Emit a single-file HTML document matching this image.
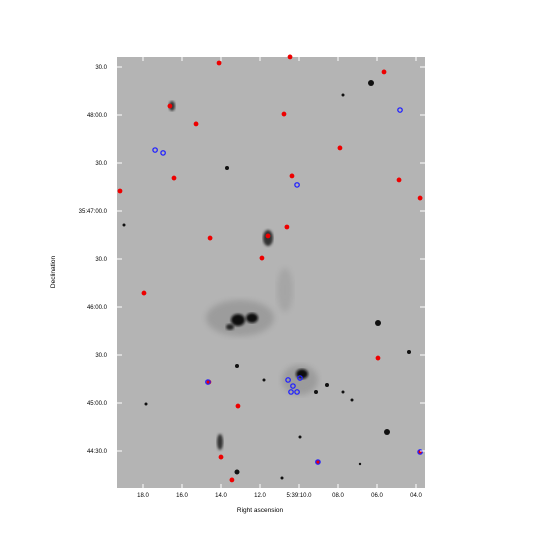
<!DOCTYPE html>
<html><head><meta charset="utf-8"><style>
html,body{margin:0;padding:0;background:#fff;}
svg{display:block;font-family:"Liberation Sans",sans-serif;}
</style></head><body>
<svg id="chart" width="541" height="546">
<defs>
<filter id="blur1"><feGaussianBlur stdDeviation="3"/></filter>
<filter id="blur2"><feGaussianBlur stdDeviation="1.2"/></filter>
</defs>
<rect x="117" y="57" width="308" height="431" fill="#b4b4b4"/>
<g id="neb">
<ellipse cx="240" cy="318" rx="34" ry="18" fill="#808080" opacity="0.45" filter="url(#blur1)"/>
<ellipse cx="285" cy="290" rx="8" ry="22" fill="#909090" opacity="0.4" filter="url(#blur1)"/>
<ellipse cx="300" cy="380" rx="18" ry="15" fill="#808080" opacity="0.45" filter="url(#blur1)"/>
<ellipse cx="238" cy="320" rx="7" ry="6" fill="#111" filter="url(#blur2)"/>
<ellipse cx="252" cy="318" rx="6" ry="5" fill="#111" filter="url(#blur2)"/>
<ellipse cx="230" cy="327" rx="4" ry="3" fill="#222" filter="url(#blur2)"/>
<ellipse cx="302" cy="374" rx="6" ry="5" fill="#111" filter="url(#blur2)"/>
<ellipse cx="268" cy="238" rx="5" ry="8" fill="#333" filter="url(#blur2)"/>
<ellipse cx="220" cy="442" rx="3" ry="8" fill="#333" filter="url(#blur2)"/>
<ellipse cx="172" cy="106" rx="3" ry="5" fill="#333" filter="url(#blur2)"/>
<circle cx="371" cy="83" r="3" fill="#111"/>
<circle cx="378" cy="323" r="3" fill="#111"/>
<circle cx="387" cy="432" r="3" fill="#111"/>
<circle cx="237" cy="472" r="2.5" fill="#111"/>
<circle cx="227" cy="168" r="2" fill="#111"/>
<circle cx="316" cy="392" r="2" fill="#111"/>
<circle cx="327" cy="385" r="2" fill="#111"/>
<circle cx="343" cy="95" r="1.5" fill="#111"/>
<circle cx="409" cy="352" r="2" fill="#111"/>
<circle cx="264" cy="380" r="1.5" fill="#111"/>
<circle cx="237" cy="366" r="2" fill="#111"/>
<circle cx="146" cy="404" r="1.5" fill="#111"/>
<circle cx="124" cy="225" r="1.5" fill="#111"/>
<circle cx="343" cy="392" r="1.5" fill="#111"/>
<circle cx="352" cy="400" r="1.5" fill="#111"/>
<circle cx="300" cy="437" r="1.5" fill="#111"/>
<circle cx="282" cy="478" r="1.5" fill="#111"/>
<circle cx="360" cy="464" r="1.2" fill="#111"/>
</g>
<g id="marks"></g>
<g id="axes"></g>
<text x="260" y="512" font-size="6.5" text-anchor="middle" fill="#000">Right ascension</text>
<text x="55" y="272" font-size="6.5" text-anchor="middle" fill="#000" transform="rotate(-90 55 272)">Declination</text>
</svg>
<script>
const xTicks=[18,16,14,12,10,8,6,4];
const xTickLabels=["18.0","16.0","14.0","12.0","5:39:10.0","08.0","06.0","04.0"];
const yTicks=[90,60,30,0,-30,-60,-90,-120,-150];
const yTickLabels=["30.0","48:00.0","30.0","35:47:00.0","30.0","46:00.0","30.0","45:00.0","44:30.0"];
const redRA=[14.10,10.46,5.64,16.62,15.28,10.77,7.90,10.36,16.41,4.87,19.18,3.79,14.56,11.59,10.62,11.90,17.95,5.95,14.62,13.13,14.0,13.44,9.03,3.79];
const redDec=[92.5,96.3,86.9,65.6,54.4,60.6,39.4,21.9,20.6,19.4,12.5,8.1,-16.9,-15.6,-10,-29.4,-51.3,-91.9,-106.9,-121.9,-153.8,-168.1,-156.9,-150.6];
const blueRA=[17.38,16.97,10.1,4.82,10.56,10.31,10.1,9.95,10.41,9.03,3.79,14.67];
const blueDec=[38.1,36.3,16.3,63.1,-105.6,-109.4,-113.1,-104.4,-113.1,-156.9,-150.6,-106.9];
function xS(ra){return 143-(ra-18)*19.5;}
function yS(d){return 211-d*1.6;}
const NS="http://www.w3.org/2000/svg";
const marks=document.getElementById('marks'), axes=document.getElementById('axes');
redRA.forEach((ra,i)=>{
  const c=document.createElementNS(NS,'circle');
  c.setAttribute('cx',xS(ra));c.setAttribute('cy',yS(redDec[i]));c.setAttribute('r',2.4);
  c.setAttribute('fill','#e00');
  
  
  marks.appendChild(c);
});
blueRA.forEach((ra,i)=>{
  const c=document.createElementNS(NS,'circle');
  c.setAttribute('cx',xS(ra));c.setAttribute('cy',yS(blueDec[i]));c.setAttribute('r',2.2);
  c.setAttribute('fill','none');c.setAttribute('stroke','#22f');c.setAttribute('stroke-width','1.3');
  
  
  marks.appendChild(c);
});
xTicks.forEach((v,i)=>{
  const x=xS(v);
  const t=document.createElementNS(NS,'text');
  t.setAttribute('x',x);t.setAttribute('y',497);t.setAttribute('font-size','6');t.setAttribute('text-anchor','middle');
  t.textContent=xTickLabels[i];
  
  
  axes.appendChild(t);
  [[488,484],[57,61]].forEach(p=>{
    const l=document.createElementNS(NS,'line');
    l.setAttribute('x1',x);l.setAttribute('x2',x);l.setAttribute('y1',p[0]);l.setAttribute('y2',p[1]);l.setAttribute('stroke','#fff');
    
    
    axes.appendChild(l);
  });
});
yTicks.forEach((v,i)=>{
  const y=yS(v);
  const t=document.createElementNS(NS,'text');
  t.setAttribute('x',107);t.setAttribute('y',y+2);t.setAttribute('font-size','6');t.setAttribute('text-anchor','end');
  t.textContent=yTickLabels[i];
  
  
  axes.appendChild(t);
  [[117,122],[425,420]].forEach(p=>{
    const l=document.createElementNS(NS,'line');
    l.setAttribute('x1',p[0]);l.setAttribute('x2',p[1]);l.setAttribute('y1',y);l.setAttribute('y2',y);l.setAttribute('stroke','#fff');
    
    
    axes.appendChild(l);
  });
});
</script>
</body></html>
